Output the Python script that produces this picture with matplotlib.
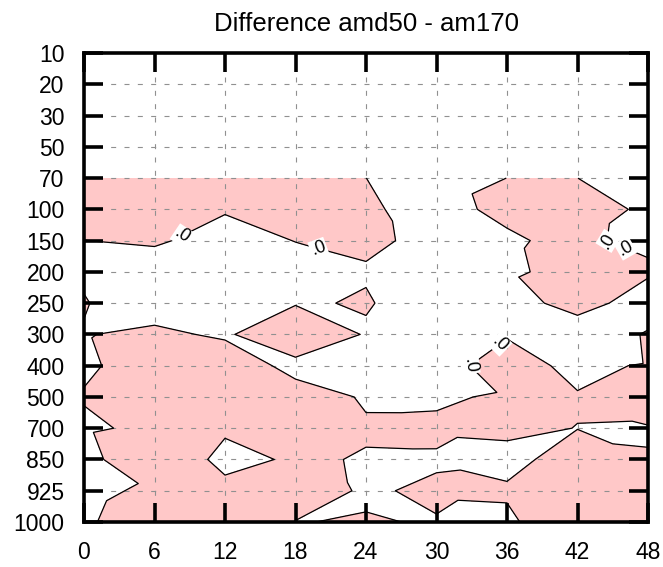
import numpy as np
import matplotlib
matplotlib.use("Agg")
import matplotlib.pyplot as plt
import matplotlib.tri as mtri

plt.rcParams['font.family'] = ['Liberation Sans', 'DejaVu Sans']

# ---- data -------------------------------------------------------------
hours = [0, 6, 12, 18, 24, 30, 36, 42, 48]
axis_levels = ['10', '20', '30', '50', '70', '100', '150', '200', '250',
               '300', '400', '500', '700', '850', '925', '1000']
data_levels = ['70', '100', '150', '200', '250', '300', '400', '500',
               '700', '850', '925', '1000']

# difference field (amd50 - am170) at each level, one value per hour
p70   = [-1.0, -1.2, -1.0, -1.0, -0.01, 1.0, -0.01, -0.01, 1.0]
p100  = [-0.8, -1.0, -0.18, -0.8, -0.5, 1.35, -0.98, -1.5, 0.58]
p150  = [0.02, -0.3, 0.9, -0.05, -0.6, 0.83, 0.65, -1.32, 1.82]
p200  = [0.6, 1.28, 1.2, 1.0, 0.3, 1.2, 0.98, -2.0, -1.5]
p250  = [-0.25, 2.76, 1.5, 0.4, -0.3, 2.06, 5.5, -4.9, 6.0]
p300  = [0.25, -1.15, 0.83, -5.1, 0.46, 1.5, 0.43, 7.7, -1.0]
p400  = [0.67, -2.0, -3.78, 1.89, 1.5, 2.2, -2.45, 1.5, -0.58]
p500  = [-0.3, -2.0, -1.5, -2.5, 0.51, 0.4, -0.37, -0.38, -1.0]
p700  = [0.77, -1.06, -0.77, -1.0, -0.51, -0.5, -0.81, 0.07, 0.11]
p850  = [1.94, -5.0, 1.63, -0.7, 0.33, 0.26, 1.2, -1.8, -0.07]
p925  = [0.8, -0.58, -1.63, -1.0, 0.25, -0.35, -0.51, -2.0, -1.5]
p1000 = [0.4, -1.7, -1.5, 0.05, -0.12, 0.12, 0.8, -3.6, -1.5]

# label anchor points (hour, level) for the zero-line labels
label_hours  = [8.7, 20.3, 44.6, 46.6, 34.3, 32.9]
label_levels = ['150', '150', '150', '150', '300', '400']

title = "Difference amd50 - am170"

# ---- build grid ---------------------------------------------------------
z = np.array([p70, p100, p150, p200, p250, p300, p400, p500,
              p700, p850, p925, p1000], dtype=float)
ypos = np.array([axis_levels.index(l) for l in data_levels], dtype=float)
X, Y = np.meshgrid(np.array(hours, dtype=float), ypos)
ny, nx = z.shape
zf = z.ravel()

tris = []
for j in range(ny - 1):
    for i in range(nx - 1):
        a = j * nx + i
        b = a + 1
        c = a + nx
        d = c + 1
        neg = [zf[a] < 0, zf[b] < 0, zf[c] < 0, zf[d] < 0]
        if neg[0] == neg[3] and neg[1] == neg[2] and neg[0] != neg[1]:
            use_ad = not neg[0]          # keep the positive diagonal joined
        elif sum(neg) in (1, 3):
            minority = neg.count(True) == 1
            odd = neg.index(minority)
            use_ad = odd in (1, 2)       # diagonal not touching odd corner
        else:
            use_ad = True
        if use_ad:
            tris += [[a, b, d], [a, d, c]]
        else:
            tris += [[a, b, c], [b, d, c]]

tri = mtri.Triangulation(X.ravel(), Y.ravel(), np.array(tris))

# ---- figure -------------------------------------------------------------
fig = plt.figure(figsize=(6.63, 5.67), dpi=100)
ax = fig.add_axes([84 / 663, 45 / 567, 564 / 663, 469 / 567])

pink = '#ffc8c8'
ax.tricontourf(tri, zf, levels=[-1000, 0], colors=[pink], zorder=1)
cs = ax.tricontour(tri, zf, levels=[0], colors='black', linewidths=0.9,
                   zorder=3)

manual = [(h, axis_levels.index(l)) for h, l in zip(label_hours, label_levels)]
texts = ax.clabel(cs, fmt={0.0: '.0'}, manual=manual, inline=True,
                  inline_spacing=2, fontsize=13)
for t in texts:
    t.set_bbox(dict(boxstyle='square,pad=0.05', fc='white', ec='none'))
    t.set_zorder(5)

ax.set_xlim(0, 48)
ax.set_ylim(len(axis_levels) - 1, 0)
ax.set_xticks(hours)
ax.set_xticklabels([str(h) for h in hours])
ax.set_yticks(range(len(axis_levels)))
ax.set_yticklabels(axis_levels)

ax.set_axisbelow(False)
ax.grid(True, color='#909090', linestyle=(0, (4.5, 7.5)), linewidth=0.8,
        zorder=2)
ax.tick_params(direction='in', length=13.5, width=2.6, top=True,
               right=True, labelsize=16.5, pad=14, color='black')
for s in ax.spines.values():
    s.set_linewidth(2.6)
    s.set_zorder(6)

ax.set_title(title, fontsize=18.5, pad=16)

fig.savefig('out.png', dpi=100)
